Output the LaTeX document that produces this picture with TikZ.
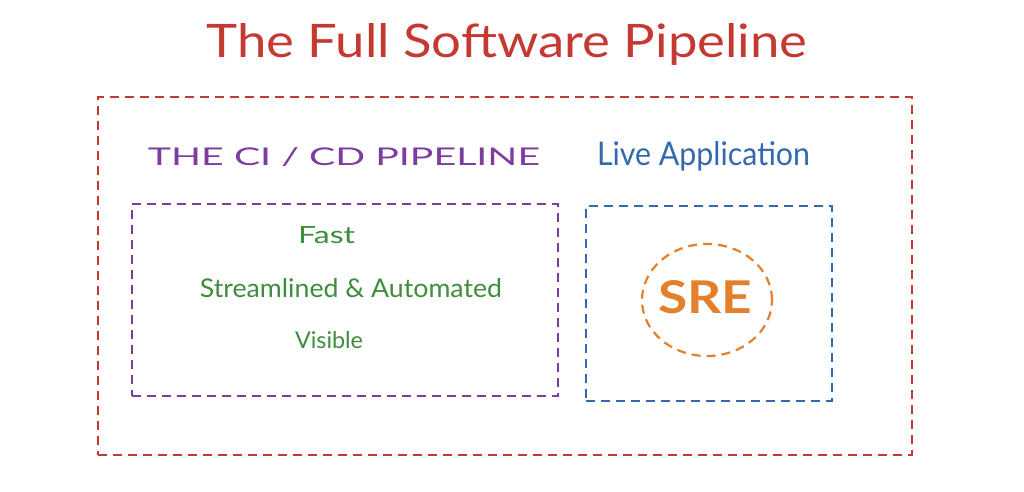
\documentclass[tikz,border=0pt]{standalone}
\usepackage{fontspec}
\setmainfont{Lato}
\usetikzlibrary{shapes.geometric}
\definecolor{cred}{RGB}{196,58,50}
\definecolor{cpurple}{RGB}{125,60,160}
\definecolor{cblue}{RGB}{50,105,175}
\definecolor{cgreen}{RGB}{62,140,62}
\definecolor{corange}{RGB}{228,128,44}
\tikzset{
  dbox/.style={draw, line width=2.2pt, dash pattern=on 9pt off 6pt, inner sep=0pt, fill=none},
  txt/.style={anchor=base, inner sep=0pt}
}
\begin{document}
\begin{tikzpicture}[x=1pt,y=1pt]
\useasboundingbox[fill=white] (0,0) rectangle (1024,491);
% title
\node[txt, text=cred] (title) at (507,433) {\resizebox{601pt}{34pt}{\fontsize{42}{48}\selectfont The Full Software Pipeline}};
% outer box
\node[dbox, draw=cred, minimum width=814pt, minimum height=358pt] (outer) at (505,215) {};
% CI/CD
\node[txt, text=cpurple] (cilabel) at (344,326) {\resizebox{392pt}{18pt}{\fontsize{25}{30}\selectfont THE CI / CD PIPELINE}};
\node[dbox, draw=cpurple, minimum width=426pt, minimum height=192pt] (cibox) at (345,191) {};
\node[txt, text=cgreen] (fast) at (326.5,248) {\resizebox{57pt}{17pt}{\fontsize{22}{26}\selectfont Fast}};
\node[txt, text=cgreen] (stream) at (351,194) {\resizebox{302pt}{19pt}{\fontsize{22}{26}\selectfont Streamlined \& Automated}};
\node[txt, text=cgreen] (visible) at (329,143) {\resizebox{68pt}{17pt}{\fontsize{22}{26}\selectfont Visible}};
% Live application
\node[txt, text=cblue] (livelabel) at (703.5,326) {\resizebox{213pt}{24pt}{\fontsize{26}{30}\selectfont Live Application}};
\node[dbox, draw=cblue, minimum width=246pt, minimum height=195pt] (livebox) at (709,187.5) {};
\node[ellipse, dbox, draw=corange, minimum width=130pt, minimum height=112pt] (sreell) at (707,191) {};
\node[txt, text=corange] (sre) at (705,178) {\resizebox{94pt}{33pt}{\fontsize{44}{50}\selectfont\bfseries SRE}};
\end{tikzpicture}
\end{document}
